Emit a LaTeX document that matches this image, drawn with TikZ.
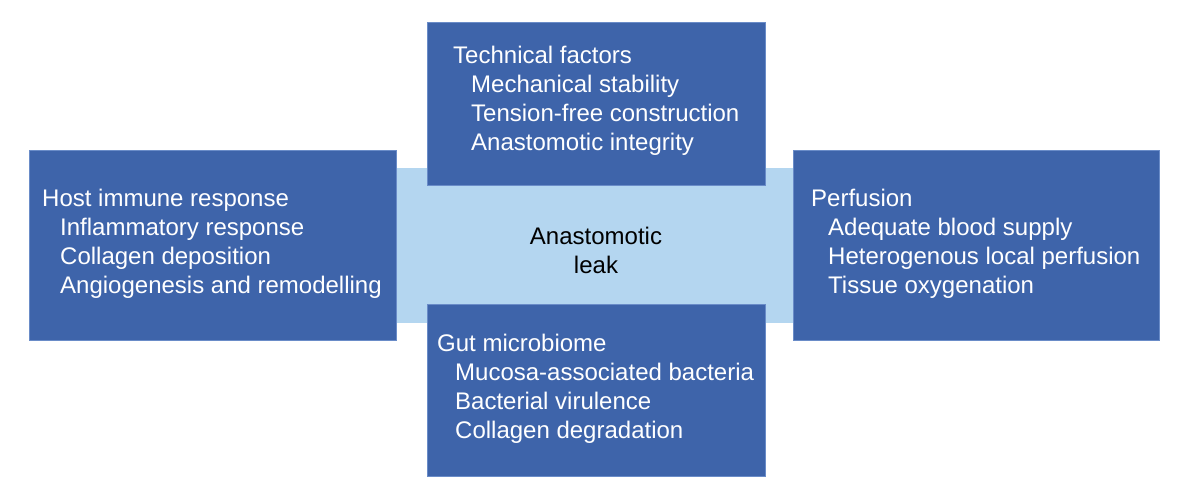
\documentclass[tikz,border=0pt]{standalone}
\usepackage{fontspec}
\setmainfont{Liberation Sans}
\definecolor{boxblue}{HTML}{3E64AA}
\definecolor{edgeblue}{HTML}{6A8CC8}
\definecolor{lightblue}{HTML}{B4D6F0}
\begin{document}
\begin{tikzpicture}[x=1pt,y=-1pt,
  box/.style={fill=boxblue,draw=edgeblue,line width=0.8pt,anchor=north west,inner sep=0},
  core/.style={fill=lightblue,anchor=north west,inner sep=0},
  txt/.style={anchor=base west,inner sep=0,text=white,font=\fontsize{24}{29}\selectfont},
  ctxt/.style={anchor=base,inner sep=0,text=black,font=\fontsize{24}{29}\selectfont}]
\useasboundingbox (0,0) rectangle (1200,497);
% central light band
\node[core,minimum width=397pt,minimum height=155pt] (leakband) at (396,168) {};
% boxes
\node[box,minimum width=338pt,minimum height=163pt] (tech) at (427,22) {};
\node[box,minimum width=338pt,minimum height=172pt] (gut) at (427,304) {};
\node[box,minimum width=367pt,minimum height=190pt] (host) at (29,150) {};
\node[box,minimum width=366pt,minimum height=190pt] (perf) at (793,150) {};
% centre text
\node[ctxt] (leak1) at (596,245) {Anastomotic};
\node[ctxt] (leak2) at (596,273) {leak};
% technical factors
\node[txt] (tech1) at (453,64) {Technical factors};
\node[txt] (tech2) at (471,93) {Mechanical stability};
\node[txt] (tech3) at (471,122) {Tension-free construction};
\node[txt] (tech4) at (471,151) {Anastomotic integrity};
% gut microbiome
\node[txt] (gut1) at (437,351) {Gut microbiome};
\node[txt] (gut2) at (455,380) {Mucosa-associated bacteria};
\node[txt] (gut3) at (455,409) {Bacterial virulence};
\node[txt] (gut4) at (455,438) {Collagen degradation};
% host immune response
\node[txt] (host1) at (42,207) {Host immune response};
\node[txt] (host2) at (60,236) {Inflammatory response};
\node[txt] (host3) at (60,265) {Collagen deposition};
\node[txt] (host4) at (60,294) {Angiogenesis and remodelling};
% perfusion
\node[txt] (perf1) at (811,207) {Perfusion};
\node[txt] (perf2) at (828,236) {Adequate blood supply};
\node[txt] (perf3) at (828,265) {Heterogenous local perfusion};
\node[txt] (perf4) at (828,294) {Tissue oxygenation};
\end{tikzpicture}
\end{document}
